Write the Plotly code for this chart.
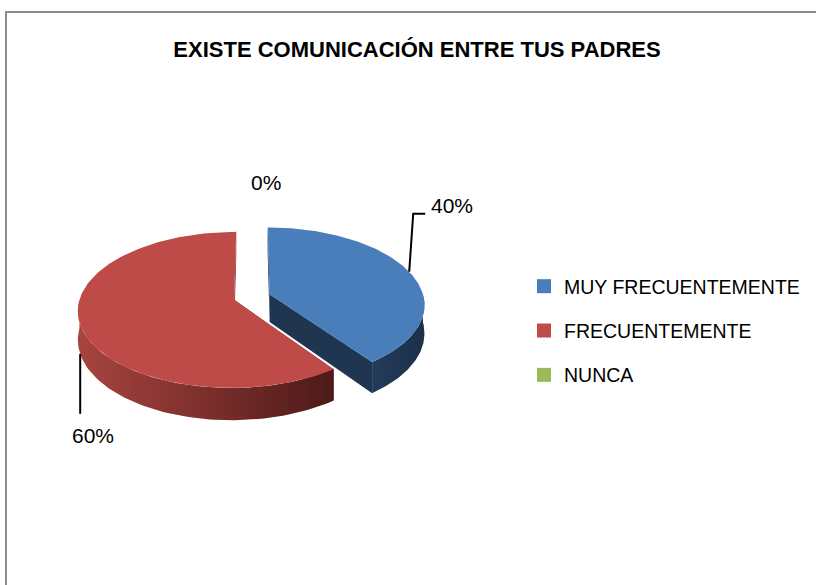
import numpy as np
import plotly.graph_objects as go

# ---------------- data ----------------
categories = ["MUY FRECUENTEMENTE", "FRECUENTEMENTE", "NUNCA"]
values = [40, 60, 0]
title_text = "EXISTE COMUNICACIÓN ENTRE TUS PADRES"

# ---------------- style ----------------
top_colors = ["#4A7EBB", "#BE4B48", "#9BBB59"]
face_colors = ["#1F3550", "#7A2E2B", "#5E7436"]
side_scales = [
    [[0, "#233B5A"], [1, "#1C3049"]],
    [[0, "#A8443F"], [0.5, "#7C2F2C"], [1, "#4C1A18"]],
    [[0, "#7E9A46"], [1, "#4E6230"]],
]
FONT = "Liberation Sans"

W, H = 816, 585
CX, CY = 252.0, 297.0      # pie centre (pixel-like axis units)
RX, RY = 154.0, 76.0       # ellipse radii
T = 28.0                   # thickness
K = 0.128                  # perspective factor
E = 0.121                  # explode fraction


def proj(u, v, h):
    u = np.asarray(u, float)
    v = np.asarray(v, float)
    s = 1.0 / (1.0 + K * v)
    return CX + RX * u * s, CY - RY * v * s + h * T * s


fig = go.Figure()

total = float(sum(values))
fracs = [v / total for v in values]
starts = np.concatenate([[0.0], np.cumsum(fracs)[:-1]]) * 2 * np.pi
ends = np.cumsum(fracs) * 2 * np.pi

slice_geo = []
order = [1, 0]  # draw back-left slice first
for i in range(len(values)):
    a0, a1 = starts[i], ends[i]
    m = (a0 + a1) / 2
    ou, ov = E * np.sin(m), E * np.cos(m)
    slice_geo.append((a0, a1, m, ou, ov))

for i in order:
    a0, a1, m, ou, ov = slice_geo[i]
    if a1 - a0 <= 0:
        continue
    # cut faces
    for a in (a0, a1):
        xs_t, ys_t = proj([ou, ou + np.sin(a)], [ov, ov + np.cos(a)], 0)
        xs_b, ys_b = proj([ou + np.sin(a), ou], [ov + np.cos(a), ov], 1)
        fig.add_trace(go.Scatter(
            x=list(xs_t) + list(xs_b) + [xs_t[0]],
            y=list(ys_t) + list(ys_b) + [ys_t[0]],
            mode="lines", fill="toself", fillcolor=face_colors[i],
            line=dict(width=0, color=face_colors[i]),
            hoverinfo="skip", showlegend=False))
    # outer side (front facing)
    s0, s1 = max(a0, np.pi / 2), min(a1, 3 * np.pi / 2)
    if s1 > s0:
        th = np.linspace(s0, s1, 80)
        xt, yt = proj(ou + np.sin(th), ov + np.cos(th), 0)
        xb, yb = proj(ou + np.sin(th[::-1]), ov + np.cos(th[::-1]), 1)
        fig.add_trace(go.Scatter(
            x=list(xt) + list(xb) + [xt[0]],
            y=list(yt) + list(yb) + [yt[0]],
            mode="lines", fill="toself",
            fillgradient=dict(type="horizontal", colorscale=side_scales[i]),
            line=dict(width=0, color=top_colors[i]),
            hoverinfo="skip", showlegend=False))
    # top face
    th = np.linspace(a0, a1, 160)
    xa, ya = proj(ou + np.sin(th), ov + np.cos(th), 0)
    xc, yc = proj([ou], [ov], 0)
    fig.add_trace(go.Scatter(
        x=[xc[0]] + list(xa) + [xc[0]],
        y=[yc[0]] + list(ya) + [yc[0]],
        mode="lines", fill="toself", fillcolor=top_colors[i],
        line=dict(width=0, color=top_colors[i]),
        hoverinfo="skip", showlegend=False))

# ---------------- data labels with leader lines ----------------
label_cfg = {
    0: dict(h=0, path=[(0, 0), (4, -58), (16, -58)], text_off=(43, -66)),
    1: dict(h=1, path=[(0, 0), (0, 60)], text_off=(13, 82)),
    2: dict(h=None, path=[], text_off=(14, -40)),
}
for i in range(len(values)):
    a0, a1, m, ou, ov = slice_geo[i]
    pct = f"{round(fracs[i] * 100):d}%"
    cfg = label_cfg[i]
    h = 0 if cfg["h"] is None else cfg["h"]
    ax_, ay_ = proj([ou + np.sin(m)], [ov + np.cos(m)], h)
    ax0, ay0 = float(ax_[0]), float(ay_[0])
    if cfg["path"]:
        fig.add_trace(go.Scatter(
            x=[ax0 + p[0] for p in cfg["path"]],
            y=[ay0 + p[1] for p in cfg["path"]],
            mode="lines", line=dict(color="black", width=2),
            hoverinfo="skip", showlegend=False))
    fig.add_annotation(x=ax0 + cfg["text_off"][0], y=ay0 + cfg["text_off"][1],
                       text=pct, showarrow=False, xref="x", yref="y",
                       font=dict(family=FONT, size=21, color="black"))

# ---------------- legend entries ----------------
for i, c in enumerate(categories):
    fig.add_trace(go.Scatter(
        x=[None], y=[None], mode="markers", name=c, legendgroup=c,
        marker=dict(symbol="square", size=14, color=top_colors[i])))

fig.add_shape(type="rect", xref="paper", yref="paper",
              x0=6 / W, x1=1.2, y0=-0.2, y1=1 - 12 / H,
              line=dict(color="#8C8C8C", width=2), fillcolor="rgba(0,0,0,0)")

fig.update_layout(
    width=W, height=H, margin=dict(l=0, r=0, t=0, b=0),
    paper_bgcolor="white", plot_bgcolor="white",
    title=dict(text=f"<b>{title_text}</b>", x=417 / W, y=1 - 49 / H,
               xanchor="center", yanchor="middle",
               font=dict(family=FONT, size=22, color="black")),
    xaxis=dict(range=[0, W], visible=False, fixedrange=True),
    yaxis=dict(range=[H, 0], visible=False, fixedrange=True),
    legend=dict(x=524 / W, y=1 - 267 / H, xanchor="left", yanchor="top",
                font=dict(family=FONT, size=19.5, color="black"),
                tracegroupgap=16, bgcolor="rgba(0,0,0,0)"),
    showlegend=True,
)

fig.write_html("out.html",
               config={"displayModeBar": False},
               post_script="document.body.style.margin='0';"
                           "document.body.style.overflow='hidden';")
